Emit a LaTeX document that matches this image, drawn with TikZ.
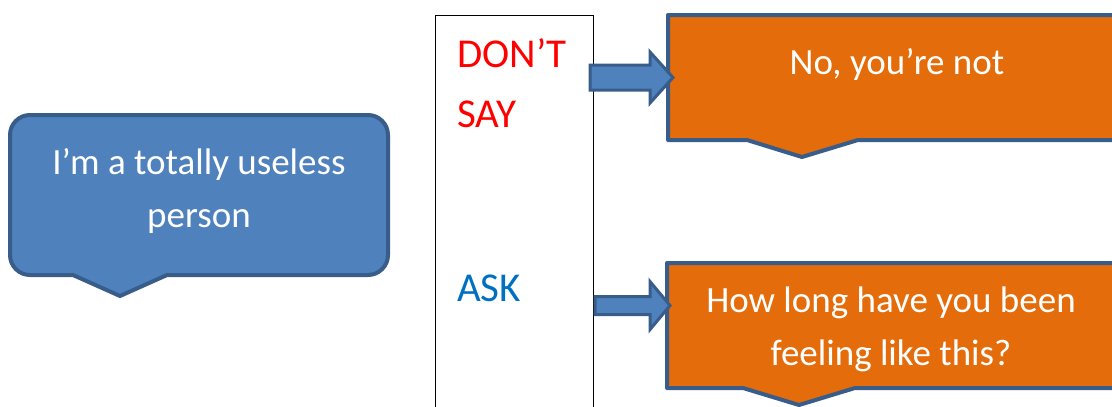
\documentclass[tikz,border=0pt]{standalone}
\usepackage{fontspec}
\setmainfont{Carlito}
\definecolor{bfill}{HTML}{4F81BD}
\definecolor{bline}{HTML}{385D8A}
\definecolor{ofill}{HTML}{E46C0A}
\definecolor{askblue}{HTML}{0070C0}
\definecolor{sayred}{HTML}{FF0000}
\begin{document}
\begin{tikzpicture}[x=1pt,y=-1pt,
  shapeline/.style={draw=bline,line width=4pt,line join=round},
  blockarrow/.style={draw=bline,fill=bfill,line width=3pt,line join=miter},
  whitetext/.style={text=white,inner sep=0pt,anchor=base,font=\fontsize{37}{44}\selectfont},
  coltext/.style={inner sep=0pt,anchor=base west,font=\fontsize{41}{49}\selectfont}]
\useasboundingbox (0,0) rectangle (1112,407);
\begin{scope}
\clip (0,0) rectangle (1112,407);
% white column box
\draw[black,line width=1pt] (435,420) -- (435,15) -- (593,15) -- (593,420);
% blue callout
\draw[shapeline,fill=bfill] (120,296) -- (167,275) -- (368,275)
  .. controls (379,275) and (388,266) .. (388,255) -- (388,135)
  .. controls (388,124) and (379,115) .. (368,115) -- (30,115)
  .. controls (19,115) and (10,124) .. (10,135) -- (10,255)
  .. controls (10,266) and (19,275) .. (30,275) -- (73,275) -- cycle;
% orange callouts
\draw[shapeline,fill=ofill] (802,157) -- (858,140) -- (1130,140) -- (1130,15) -- (668,15) -- (668,140) -- (747,140) -- cycle;
\draw[shapeline,fill=ofill] (799,405) -- (855,388) -- (1130,388) -- (1130,263) -- (667,263) -- (667,388) -- (743,388) -- cycle;
\end{scope}
% connector end points
\coordinate (a1s) at (590,77.5);
\coordinate (a1t) at (673,77.5);
\coordinate (a2s) at (595,305.5);
\coordinate (a2t) at (670,305.5);
% block arrows
\draw[blockarrow] ([yshift=-12.5pt]a1s) -- ([xshift=-23pt,yshift=-12.5pt]a1t) -- ([xshift=-23pt,yshift=-25.5pt]a1t) -- (a1t) -- ([xshift=-23pt,yshift=25.5pt]a1t) -- ([xshift=-23pt,yshift=12.5pt]a1t) -- ([yshift=12.5pt]a1s) -- cycle;
\draw[blockarrow] ([yshift=-9pt]a2s) -- ([xshift=-20pt,yshift=-9pt]a2t) -- ([xshift=-20pt,yshift=-24pt]a2t) -- (a2t) -- ([xshift=-20pt,yshift=24pt]a2t) -- ([xshift=-20pt,yshift=9pt]a2t) -- ([yshift=9pt]a2s) -- cycle;
% texts
\node[whitetext] (q1) at (199,174) {I’m a totally useless};
\node[whitetext] (q2) at (199,227) {person};
\node[coltext,text=sayred] (dont) at (457,67) {DON’T};
\node[coltext,text=sayred] (say) at (457,127) {SAY};
\node[coltext,text=askblue] (ask) at (457,301) {ASK};
\node[whitetext] (r1) at (897,74) {No, you’re not};
\node[whitetext] (r2a) at (891,312) {How long have you been};
\node[whitetext] (r2b) at (891,365) {feeling like this?};
\end{tikzpicture}
\end{document}
